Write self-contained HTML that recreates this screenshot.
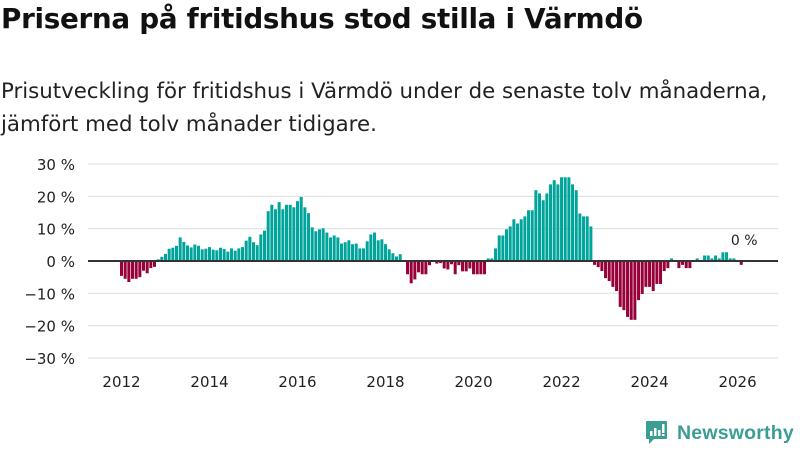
<!DOCTYPE html>
<html><head><meta charset="utf-8"><style>
body{margin:0;width:800px;height:450px;background:#fff;font-family:"DejaVu Sans","Liberation Sans",sans-serif;overflow:hidden;position:relative;color:#111}
#title{position:absolute;left:1px;top:2px;font-size:27.8px;font-weight:bold;margin:0;letter-spacing:-0.3px}
#sub{position:absolute;left:1px;top:75px;font-size:21.3px;line-height:33px;color:#222;white-space:nowrap}
svg{position:absolute;left:0;top:0}
</style></head><body>
<h1 id="title">Priserna på fritidshus stod stilla i Värmdö</h1>
<div id="sub">Prisutveckling för fritidshus i Värmdö under de senaste tolv månaderna,<br>jämfört med tolv månader tidigare.</div>
<svg id="chart" width="800" height="450"></svg>
<script>
const yTicks=[30,20,10,0,-10,-20,-30];
const yTickLabels=["30 %","20 %","10 %","0 %","−10 %","−20 %","−30 %"];
const xTickYears=[2012,2014,2016,2018,2020,2022,2024,2026];
const startYear=2012;
const values=[-4.6,-5.5,-6.5,-5.5,-5.5,-5,-3,-3.8,-2.2,-1.8,0.5,1.3,2.2,3.8,4.1,4.7,7.3,5.9,4.8,4.2,5.1,4.7,3.6,3.8,4.3,3.5,3.3,4.1,3.7,2.9,3.9,3.2,3.9,4.3,6.3,7.5,5.8,4.9,8.2,9.4,15.4,17.4,16,18.2,16,17.4,
17.4,16.6,18.5,19.8,16.6,14.8,10.4,9.2,9.8,10.1,8.8,7.3,7.9,7.3,5.4,5.8,6.4,5.2,5.4,3.9,3.9,6.1,8.2,8.8,6.4,6.7,5.2,3.6,2.4,1.4,2.1,0,
-4.1,-6.9,-5.7,-3.5,-4.1,-4.1,-1.3,0,-0.8,-0.6,-2.3,-2.6,-1,-4.1,-1.3,-3.2,-3.2,-2.3,-4.1,-4.1,-4.1,-4.1,
0.8,0.8,3.9,7.9,7.9,9.8,10.7,12.9,11.6,12.9,13.8,15.7,15.7,21.9,20.9,18.8,20.9,23.7,25,23.7,25.9,25.9,25.9,23.7,21.9,14.7,13.8,13.8,10.7,
-1.2,-1.9,-3.1,-5.3,-6.2,-8,-9.3,-14.2,-15.2,-17.3,-18.2,-18.2,-12.1,-10.2,-8,-8,-9.3,-7.1,-7.1,-3.1,-2.2,0.8,0,-2.2,-1.2,-2.2,-2.2,0,0.8,0,1.7,1.7,0.8,1.7,0.8,2.7,2.7,0.8,0.8,0,-1.2];
const lastLabel="0 %";
const NS="http://www.w3.org/2000/svg";
const svg=document.getElementById('chart');
const y=v=>261-v*3.233;
const step=3.667;
const x=i=>121.5+i*step;
function mk(t,a){const e=document.createElementNS(NS,t);for(const k in a)e.setAttribute(k,a[k]);svg.appendChild(e);return e;}
yTicks.forEach((t,k)=>{
 if(t!==0){const g=mk('line',{x1:88,x2:778,y1:y(t),y2:y(t),stroke:'#dedede','stroke-width':1});
 
 }
 const l=mk('text',{x:75,y:y(t)+6,'text-anchor':'end','font-size':15,fill:'#222','font-family':'DejaVu Sans, Liberation Sans, sans-serif'});
 l.textContent=yTickLabels[k];
 
 
});
xTickYears.forEach(yr=>{
 const xx=x((yr-startYear)*12);
 const l=mk('text',{x:xx,y:387,'text-anchor':'middle','font-size':15,fill:'#222','font-family':'DejaVu Sans, Liberation Sans, sans-serif'});
 l.textContent=yr;
 
 
});
values.forEach((v,i)=>{
 const b=mk('rect',{x:x(i)-1.5,width:3,y:Math.min(y(v),y(0)),height:Math.abs(y(v)-y(0)),fill:v>=0?'#00a49b':'#970039'});
 
 
});
const z=mk('line',{x1:88,x2:778,y1:y(0),y2:y(0),stroke:'#333','stroke-width':2});


const ll=mk('text',{x:x(values.length-1)+3,y:245,'text-anchor':'middle','font-size':14,fill:'#222','font-family':'DejaVu Sans, Liberation Sans, sans-serif'});
ll.textContent=lastLabel;


</script>
<div style="position:absolute;left:645px;top:420px;height:26px;display:flex;align-items:center">
<svg width="23" height="26" style="position:static"><path d="M2 1h19a1 1 0 0 1 1 1v16a1 1 0 0 1-1 1H9l-5 5v-5H2a1 1 0 0 1-1-1V2a1 1 0 0 1 1-1z" fill="#3a9e93"/><rect x="5" y="11" width="2.5" height="5" fill="#fff"/><rect x="9" y="8" width="2.5" height="8" fill="#fff"/><rect x="13" y="10" width="2.5" height="6" fill="#fff"/><rect x="17" y="4" width="2.5" height="9" fill="#fff"/><rect x="17" y="14" width="2.5" height="2" fill="#fff"/></svg>
<span style="font-size:19.5px;font-weight:bold;color:#3a9e93;margin-left:9px;font-family:'Liberation Sans','DejaVu Sans',sans-serif;letter-spacing:0.2px">Newsworthy</span></div>
</body></html>
